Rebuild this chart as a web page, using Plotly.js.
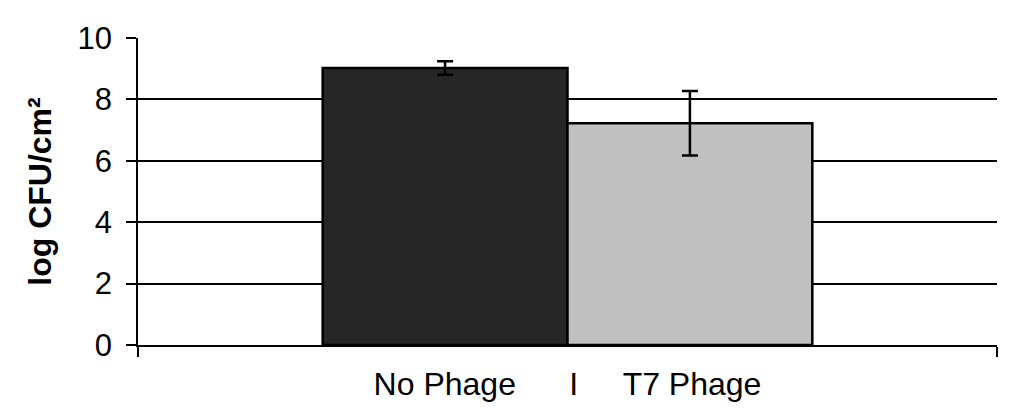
<!DOCTYPE html>
<html>
<head>
<meta charset="utf-8">
<script src="https://cdn.plot.ly/plotly-3.0.1.min.js"></script>
<style>
  html, body { margin: 0; padding: 0; background: #fff; }
  #graph { width: 1024px; height: 417px; }
</style>
</head>
<body>
<div id="graph"></div>
<script>
// one category, two groups side by side
const category = ['No Phage\u00A0\u00A0\u00A0\u00A0\u00A0\u00A0I\u00A0\u00A0\u00A0\u00A0\u00A0T7 Phage'];
const seriesNames = ['No Phage', 'T7 Phage'];
const meanValues = [9.02, 7.22];
const errorValues = [0.22, 1.05];
const yTicks = [0, 2, 4, 6, 8, 10];

const barColors = ['#262626', '#c0c0c0'];

const traces = seriesNames.map((name, i) => ({
    type: 'bar',
    name: name,
    x: category,
    y: [meanValues[i]],
    marker: {
        color: barColors[i],
        line: {color: '#000000', width: 2.5}
    },
    error_y: {
        type: 'data',
        array: [errorValues[i]],
        visible: true,
        color: '#000000',
        thickness: 2.5,
        width: 8
    },
    hoverinfo: 'y'
}));

const layout = {
    width: 1024,
    height: 417,
    paper_bgcolor: '#ffffff',
    plot_bgcolor: '#ffffff',
    font: {family: 'Liberation Sans, Arial, sans-serif', color: '#000000', size: 31},
    barmode: 'group',
    bargap: 0.43,
    bargroupgap: 0,
    showlegend: false,
    margin: {l: 138, r: 27, t: 38, b: 72},
    xaxis: {
        type: 'category',
        tickson: 'boundaries',
        ticks: 'outside',
        ticklen: 10,
        tickwidth: 1.5,
        tickcolor: '#000000',
        showline: true,
        linecolor: '#000000',
        linewidth: 1.5,
        showgrid: false,
        zeroline: false,
        ticklabelstandoff: 10,
        tickfont: {size: 32}
    },
    yaxis: {
        range: [0, 10],
        tickvals: yTicks,
        ticks: 'outside',
        ticklen: 10,
        tickwidth: 1.5,
        tickcolor: '#000000',
        showline: true,
        linecolor: '#000000',
        linewidth: 1.5,
        showgrid: true,
        gridcolor: '#000000',
        gridwidth: 1.5,
        zeroline: false,
        ticklabelstandoff: 8,
        tickfont: {size: 31},
        title: {
            text: '<b>log CFU/cm²</b>',
            font: {size: 32},
            standoff: 16
        }
    }
};

Plotly.newPlot('graph', traces, layout, {displayModeBar: false, responsive: false});
</script>
</body>
</html>
